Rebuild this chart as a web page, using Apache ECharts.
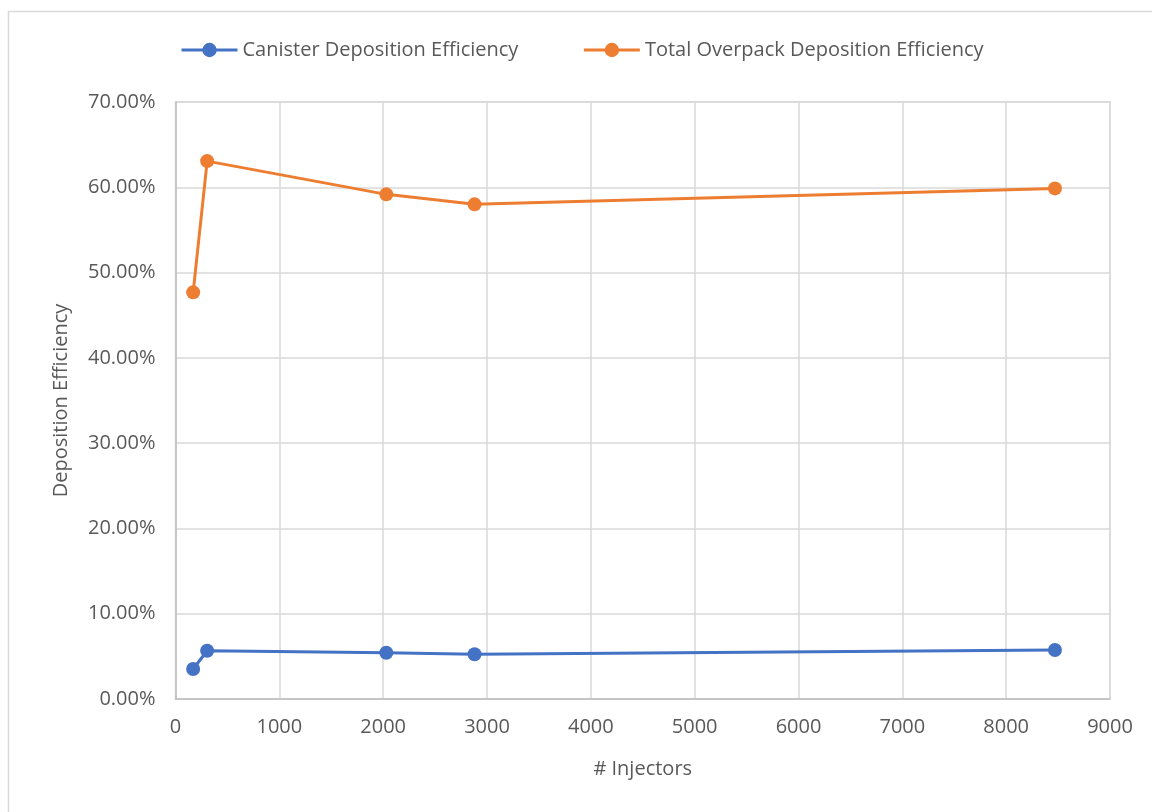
<!DOCTYPE html>
<html>
<head>
<meta charset="utf-8">
<script src="https://cdn.jsdelivr.net/npm/echarts@6/dist/echarts.min.js"></script>
<style>
html,body{margin:0;padding:0;background:#fff;}
#main{width:1152px;height:812px;}
</style>
</head>
<body>
<div id="main"></div>
<script>
const injectors = [170, 305, 2030, 2880, 8470];
const canister = [0.0352, 0.0566, 0.0543, 0.0524, 0.0574];
const overpack = [0.4768, 0.6307, 0.5917, 0.5800, 0.5987];
const seriesNames = ['Canister Deposition Efficiency', 'Total Overpack Deposition Efficiency'];
const colors = ['#4472C4', '#ED7D31'];

const FONT = 'Open Sans';
const chart = echarts.init(document.getElementById('main'), null, {renderer: 'canvas'});
const pair = (xs, ys) => xs.map((x, i) => [x, ys[i]]);
chart.setOption({
  animation: false,
  backgroundColor: '#fff',
  graphic: [{
    type: 'rect', shape: {x: 8.5, y: 11.5, width: 1200, height: 900},
    style: {fill: 'none', stroke: '#d9d9d9', lineWidth: 1.5}, silent: true, z: -1
  }],
  legend: {
    top: 35, left: 175,
    itemWidth: 56, itemHeight: 18, itemGap: 64,
    lineStyle: {width: 3},
    textStyle: {fontFamily: FONT, fontSize: 20, color: '#595959'},
    data: seriesNames
  },
  grid: {left: 175.5, right: 42, top: 102, bottom: 113, show: true, borderColor: '#d9d9d9', borderWidth: 1.5},
  xAxis: {
    type: 'value', min: 0, max: 9000, interval: 1000,
    name: '# Injectors', nameLocation: 'middle', nameGap: 60,
    nameTextStyle: {fontFamily: FONT, fontSize: 20, color: '#595959'},
    axisLine: {show: true, lineStyle: {color: '#bfbfbf', width: 1.5}},
    axisTick: {show: false},
    axisLabel: {fontFamily: FONT, fontSize: 20, color: '#595959', margin: 18,
      formatter: v => String(v)},
    splitLine: {show: true, lineStyle: {color: '#d9d9d9', width: 1.5}}
  },
  yAxis: {
    type: 'value', min: 0, max: 0.7, interval: 0.1,
    name: 'Deposition Efficiency', nameLocation: 'middle', nameGap: 104,
    nameTextStyle: {fontFamily: FONT, fontSize: 20, color: '#595959'},
    axisLine: {show: true, lineStyle: {color: '#bfbfbf', width: 1.5}},
    axisTick: {show: false},
    axisLabel: {fontFamily: FONT, fontSize: 20, color: '#595959', margin: 20,
      formatter: v => (v * 100).toFixed(2) + '%'},
    splitLine: {show: true, lineStyle: {color: '#d9d9d9', width: 1.5}}
  },
  series: [
    {name: seriesNames[0], type: 'line', data: pair(injectors, canister),
     symbol: 'circle', symbolSize: 14, color: colors[0],
     lineStyle: {width: 3, color: colors[0]}, itemStyle: {color: colors[0]}},
    {name: seriesNames[1], type: 'line', data: pair(injectors, overpack),
     symbol: 'circle', symbolSize: 14, color: colors[1],
     lineStyle: {width: 3, color: colors[1]}, itemStyle: {color: colors[1]}}
  ]
});
</script>
</body>
</html>
